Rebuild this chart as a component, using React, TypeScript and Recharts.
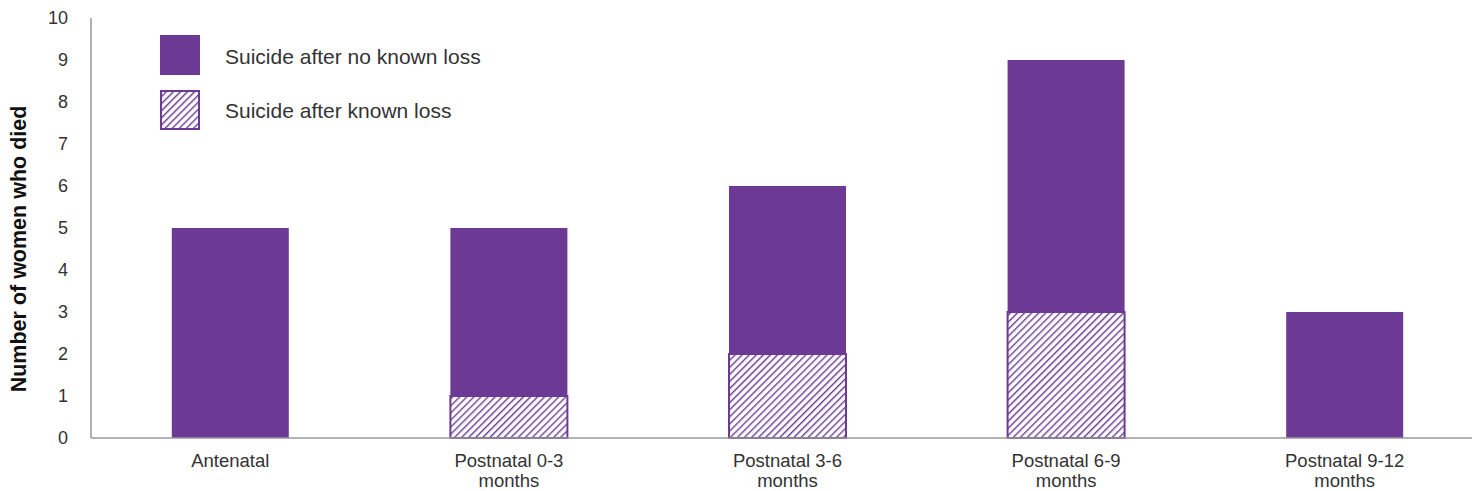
import React from 'react';
import { BarChart, Bar, XAxis, YAxis } from 'recharts';

const categories = ['Antenatal', 'Postnatal 0-3 months', 'Postnatal 3-6 months', 'Postnatal 6-9 months', 'Postnatal 9-12 months'];
const knownLoss = [0, 1, 2, 3, 0];
const noKnownLoss = [5, 4, 4, 6, 3];
const yTicks = [0, 1, 2, 3, 4, 5, 6, 7, 8, 9, 10];

const data = categories.map((name, i) => ({
  name,
  known: knownLoss[i],
  noKnown: noKnownLoss[i],
}));

const PURPLE = '#6C3A94';
const FONT = '"Liberation Sans", Arial, sans-serif';

const HatchDefs = ({ id }: { id: string }) => (
  <defs>
    <pattern id={id} patternUnits="userSpaceOnUse" width="5" height="5" patternTransform="rotate(45)">
      <rect width="5" height="5" fill="#fff" />
      <line x1="0" y1="0" x2="0" y2="5" stroke={PURPLE} strokeWidth="2.8" />
    </pattern>
  </defs>
);

// splits "Postnatal 0-3 months" onto two lines like the original
const CategoryTick = ({ x, payload }: any) => {
  const label = String(payload.value);
  const lines = label.endsWith(' months') ? [label.replace(' months', ''), 'months'] : [label];
  return (
    <text textAnchor="middle" fill="#333" fontSize={18.5} fontFamily={FONT}>
      {lines.map((l, i) => (
        <tspan key={i} x={x} y={467 + i * 20}>{l}</tspan>
      ))}
    </text>
  );
};

const ChartLegend = () => (
  <div style={{ position: 'absolute', left: 160, top: 35, fontFamily: FONT, fontSize: 21, color: '#333' }}>
    <div style={{ display: 'flex', alignItems: 'center', height: 40, marginBottom: 15 }}>
      <div style={{ width: 40, height: 40, background: PURPLE }} />
      <span style={{ marginLeft: 25, marginTop: 3 }}>Suicide after no known loss</span>
    </div>
    <div style={{ display: 'flex', alignItems: 'center', height: 40 }}>
      <svg width={40} height={40}>
        <HatchDefs id="hatchLegend" />
        <rect x={1} y={1} width={38} height={38} fill="url(#hatchLegend)" stroke={PURPLE} strokeWidth={2} />
      </svg>
      <span style={{ marginLeft: 25, marginTop: 2 }}>Suicide after known loss</span>
    </div>
  </div>
);

export default function App() {
  return (
    <div style={{ width: 1472, height: 491, overflow: 'hidden', position: 'relative', background: '#fff' }}>
      <style>{`body{margin:0}`}</style>
      <BarChart
        width={1484}
        height={491}
        data={data}
        margin={{ top: 18, right: 0, left: 31, bottom: 3 }}
        barCategoryGap="29%"
      >
        <HatchDefs id="hatchBar" />
        <XAxis
          dataKey="name"
          interval={0}
          tick={<CategoryTick />}
          tickLine={false}
          axisLine={{ stroke: '#999', strokeWidth: 1.5 }}
          height={50}
        />
        <YAxis
          domain={[0, 10]}
          ticks={yTicks}
          interval={0}
          width={60}
          tickLine={false}
          tickSize={0}
          tickMargin={23}
          axisLine={{ stroke: '#999', strokeWidth: 1.5 }}
          tick={{ fill: '#333', fontSize: 18, fontFamily: FONT }}
          label={() => (
            <text
              x={19}
              y={249}
              transform="rotate(-90 19 249)"
              textAnchor="middle"
              dominantBaseline="central"
              fontFamily={FONT}
              fontWeight="bold"
              fontSize={21.5}
              fill="#111"
            >
              Number of women who died
            </text>
          )}
        />
        <Bar
          dataKey="known"
          stackId="a"
          fill="url(#hatchBar)"
          stroke={PURPLE}
          strokeWidth={2}
          isAnimationActive={false}
        />
        <Bar dataKey="noKnown" stackId="a" fill={PURPLE} isAnimationActive={false} />
      </BarChart>
      <ChartLegend />
    </div>
  );
}
